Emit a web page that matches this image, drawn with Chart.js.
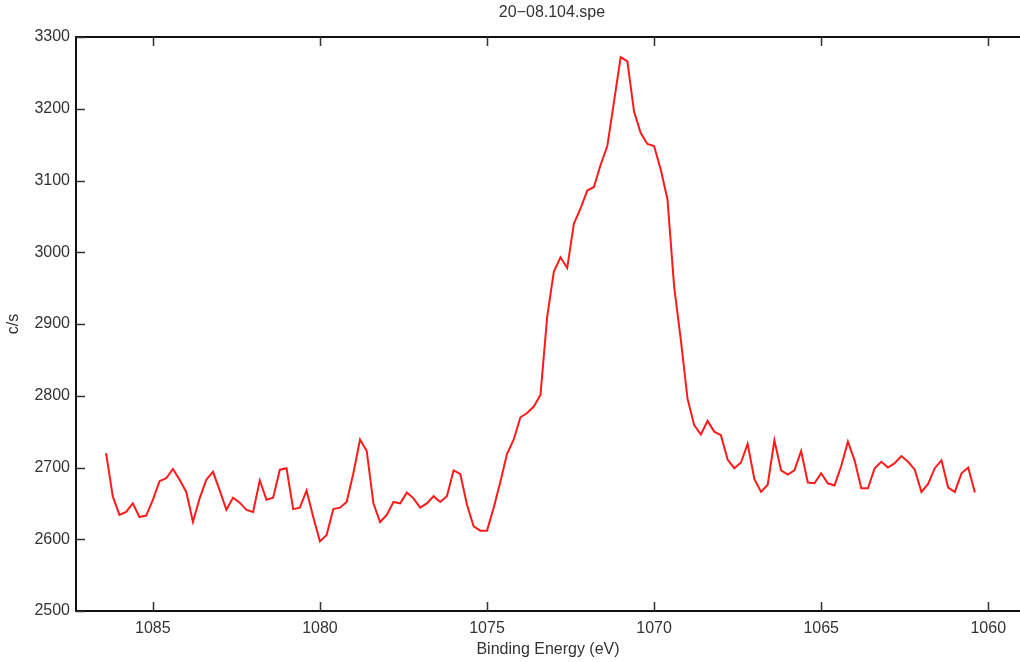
<!DOCTYPE html>
<html>
<head>
<meta charset="utf-8">
<title>20-08.104.spe</title>
<script src="https://cdn.jsdelivr.net/npm/chart.js@4.4.1/dist/chart.umd.min.js"></script>
<style>
  html, body { margin: 0; padding: 0; background: #fff; }
  canvas { display: block; }
</style>
</head>
<body>
<canvas id="speChart" width="1020" height="662"></canvas>
<script>
// binding energy (eV), 0.2 eV steps, high to low as recorded
const energies = [
  1086.4, 1086.2, 1086.0, 1085.8, 1085.6, 1085.4, 1085.2, 1085.0, 1084.8, 1084.6,
  1084.4, 1084.2, 1084.0, 1083.8, 1083.6, 1083.4, 1083.2, 1083.0, 1082.8, 1082.6,
  1082.4, 1082.2, 1082.0, 1081.8, 1081.6, 1081.4, 1081.2, 1081.0, 1080.8, 1080.6,
  1080.4, 1080.2, 1080.0, 1079.8, 1079.6, 1079.4, 1079.2, 1079.0, 1078.8, 1078.6,
  1078.4, 1078.2, 1078.0, 1077.8, 1077.6, 1077.4, 1077.2, 1077.0, 1076.8, 1076.6,
  1076.4, 1076.2, 1076.0, 1075.8, 1075.6, 1075.4, 1075.2, 1075.0, 1074.8, 1074.6,
  1074.4, 1074.2, 1074.0, 1073.8, 1073.6, 1073.4, 1073.2, 1073.0, 1072.8, 1072.6,
  1072.4, 1072.2, 1072.0, 1071.8, 1071.6, 1071.4, 1071.2, 1071.0, 1070.8, 1070.6,
  1070.4, 1070.2, 1070.0, 1069.8, 1069.6, 1069.4, 1069.2, 1069.0, 1068.8, 1068.6,
  1068.4, 1068.2, 1068.0, 1067.8, 1067.6, 1067.4, 1067.2, 1067.0, 1066.8, 1066.6,
  1066.4, 1066.2, 1066.0, 1065.8, 1065.6, 1065.4, 1065.2, 1065.0, 1064.8, 1064.6,
  1064.4, 1064.2, 1064.0, 1063.8, 1063.6, 1063.4, 1063.2, 1063.0, 1062.8, 1062.6,
  1062.4, 1062.2, 1062.0, 1061.8, 1061.6, 1061.4, 1061.2, 1061.0, 1060.8, 1060.6,
  1060.4
];

// counts per second
const counts = [
  2720, 2660, 2634, 2638, 2650, 2631, 2633, 2655, 2681, 2685,
  2698, 2683, 2666, 2624, 2657, 2683, 2694, 2668, 2641, 2658,
  2651, 2641, 2638, 2682, 2655, 2658, 2697, 2699, 2642, 2644,
  2668, 2631, 2597, 2606, 2642, 2644, 2652, 2692, 2739, 2723,
  2650, 2624, 2634, 2652, 2650, 2665, 2657, 2644, 2650, 2660,
  2652, 2660, 2696, 2691, 2648, 2618, 2612, 2612, 2644, 2680,
  2719, 2739, 2770, 2776, 2785, 2801, 2910, 2973, 2993, 2978,
  3040, 3061, 3086, 3091, 3122, 3148, 3210, 3272, 3266, 3196,
  3166, 3151, 3148, 3115, 3074, 2952, 2878, 2796, 2759, 2746,
  2765, 2750, 2745, 2711, 2699, 2707, 2733, 2684, 2666, 2676,
  2738, 2696, 2690, 2696, 2723, 2679, 2678, 2692, 2678, 2675,
  2702, 2736, 2710, 2671, 2671, 2699, 2708, 2700, 2706, 2716,
  2708, 2697, 2666, 2677, 2699, 2710, 2672, 2666, 2692, 2700,
  2665
];

const xTicks = [1085, 1080, 1075, 1070, 1065, 1060];
const yTicks = [2500, 2600, 2700, 2800, 2900, 3000, 3100, 3200, 3300];
const chartTitle = '20\u221208.104.spe';

const FONT = "'Liberation Sans', Arial, sans-serif";
const TEXT = '#333';

// matlab style frame: top line, inward tick marks, title over the axes
const framePlugin = {
  id: 'frame',
  afterDraw(chart) {
    const { ctx, chartArea: a, scales } = chart;
    ctx.save();
    ctx.strokeStyle = '#111';
    ctx.lineWidth = 2;
    ctx.beginPath();
    ctx.moveTo(a.left, a.top);
    ctx.lineTo(a.right, a.top);
    ctx.stroke();

    ctx.lineWidth = 1.5;
    ctx.strokeStyle = '#333';
    ctx.beginPath();
    xTicks.forEach(v => {
      const px = Math.round(scales.x.getPixelForValue(v)) + 0.5;
      ctx.moveTo(px, a.bottom);
      ctx.lineTo(px, a.bottom - 9);
      ctx.moveTo(px, a.top);
      ctx.lineTo(px, a.top + 9);
    });
    yTicks.forEach(v => {
      const py = Math.round(scales.y.getPixelForValue(v)) + 0.5;
      ctx.moveTo(a.left, py);
      ctx.lineTo(a.left + 9, py);
    });
    ctx.stroke();

    ctx.fillStyle = TEXT;
    ctx.font = '16px ' + FONT;
    ctx.textAlign = 'center';
    ctx.textBaseline = 'middle';
    ctx.fillText(chartTitle, (a.left + a.right) / 2 + 4, 13);
    ctx.restore();
  }
};

new Chart(document.getElementById('speChart'), {
  type: 'line',
  data: {
    datasets: [{
      label: 'c/s',
      data: energies.map((e, i) => ({ x: e, y: counts[i] })),
      borderColor: '#ff1a1a',
      borderWidth: 2,
      pointRadius: 0,
      tension: 0,
      fill: false
    }]
  },
  options: {
    responsive: false,
    animation: false,
    devicePixelRatio: 1,
    layout: { padding: { top: 37, right: 0, left: 0, bottom: 0 } },
    plugins: {
      legend: { display: false },
      tooltip: { enabled: false },
      title: { display: false }
    },
    scales: {
      x: {
        type: 'linear',
        reverse: true,
        min: 1059.05,
        max: 1087.3,
        afterBuildTicks: scale => { scale.ticks = xTicks.map(v => ({ value: v })); },
        afterFit: scale => { scale.height = 51; },
        grid: { display: false, drawTicks: false },
        border: { display: true, color: '#111', width: 2 },
        ticks: {
          color: TEXT,
          font: { family: FONT, size: 16 },
          padding: 8,
          maxRotation: 0,
          callback: v => String(v)
        },
        title: {
          display: true,
          text: 'Binding Energy (eV)',
          color: TEXT,
          font: { family: FONT, size: 16 },
          padding: { top: 0, bottom: 3 }
        }
      },
      y: {
        min: 2500,
        max: 3300,
        afterBuildTicks: scale => { scale.ticks = yTicks.map(v => ({ value: v })); },
        afterFit: scale => { scale.width = 76; },
        grid: { display: false, drawTicks: false },
        border: { display: true, color: '#111', width: 2 },
        ticks: {
          color: TEXT,
          font: { family: FONT, size: 16 },
          padding: 6,
          callback: v => String(v)
        },
        title: {
          display: true,
          text: 'c/s',
          color: TEXT,
          font: { family: FONT, size: 16 },
          padding: { top: 4, bottom: 0 }
        }
      }
    }
  },
  plugins: [framePlugin]
});
</script>
</body>
</html>
